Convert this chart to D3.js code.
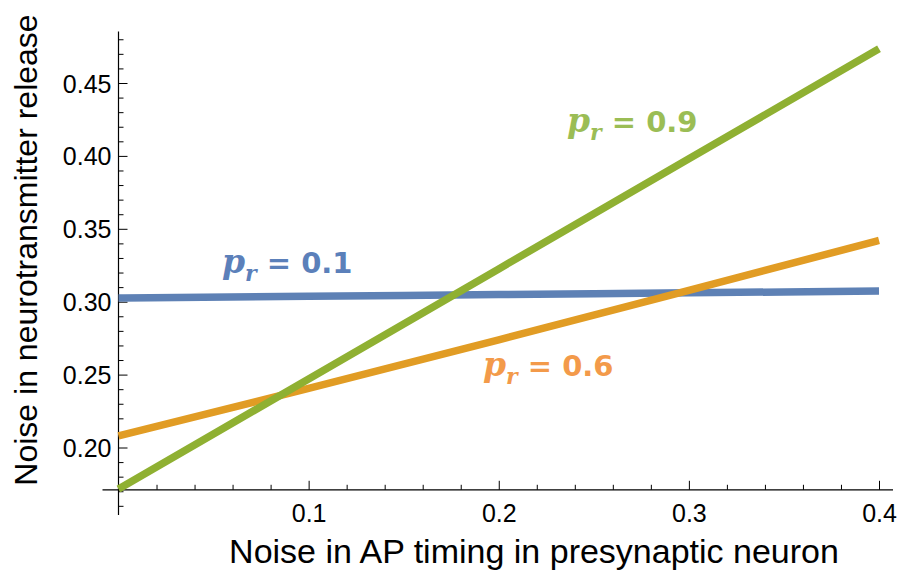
<!DOCTYPE html>
<html>
<head>
<meta charset="utf-8">
<script src="https://cdn.jsdelivr.net/npm/d3@7"></script>
<style>
  body { margin: 0; background: #fff; }
  svg { display: block; }
</style>
</head>
<body>
<div class="canvas"></div>
<script>
// values
const xValues = [0, 0.1, 0.2, 0.3, 0.4];
const pr01 = [0.3025, 0.3037, 0.3049, 0.3061, 0.3073];
const pr06 = [0.208, 0.2405, 0.2738, 0.3078, 0.342];
const pr09 = [0.1715, 0.247, 0.3225, 0.398, 0.4735];
const xTicks = [0.1, 0.2, 0.3, 0.4];
const yTicks = [0.20, 0.25, 0.30, 0.35, 0.40, 0.45];
const seriesNames = ['0.1', '0.6', '0.9'];

const svgWidth = 899;
const svgHeight = 575;

const xScale = d3.scaleLinear().domain([0, 0.4]).range([118.5, 879]);
const yScale = d3.scaleLinear().domain([0.20, 0.45]).range([447.5, 83]);

const svg = d3.select('.canvas').append('svg')
  .attr('width', svgWidth)
  .attr('height', svgHeight);

const font = '"Liberation Sans", Arial, Helvetica, sans-serif';

// axes
const xAxisY = yScale(0.171);
const yAxisX = xScale(0);

const xAxis = d3.axisTop(xScale)
  .tickValues(d3.range(1, 21).map((i) => i * 0.02))
  .tickSize(0)
  .tickFormat('');
const xAxisGroup = svg.append('g')
  .attr('transform', `translate(0, ${xAxisY})`)
  .call(xAxis);
xAxisGroup.select('.domain').remove();
xAxisGroup.selectAll('.tick line')
  .attr('y2', (d) => (Math.abs(d * 10 - Math.round(d * 10)) < 1e-6 ? -9 : -5))
  .attr('stroke', '#000')
  .attr('stroke-width', 1);

svg.append('line')
  .attr('x1', 102.5).attr('x2', 893)
  .attr('y1', xAxisY).attr('y2', xAxisY)
  .attr('stroke', '#000').attr('stroke-width', 1.2);

xAxisGroup.selectAll('.tick').filter((d) => xTicks.some((t) => Math.abs(t - d) < 1e-6))
  .append('text')
  .attr('y', 32)
  .attr('fill', '#000')
  .attr('text-anchor', 'middle')
  .style('font-family', font)
  .style('font-size', '25px')
  .text((d) => d3.format('.1f')(d));

const yMinor = d3.range(16, 49).map((i) => i / 100);
const yAxis = d3.axisRight(yScale).tickValues(yMinor).tickSize(0).tickFormat('');
const yAxisGroup = svg.append('g')
  .attr('transform', `translate(${yAxisX}, 0)`)
  .call(yAxis);
yAxisGroup.select('.domain').remove();
yAxisGroup.selectAll('.tick line')
  .attr('x2', (d) => (yTicks.some((t) => Math.abs(t - d) < 1e-6) ? 9 : 5))
  .attr('stroke', '#000')
  .attr('stroke-width', 1);

svg.append('line')
  .attr('x1', yAxisX).attr('x2', yAxisX)
  .attr('y1', 31.5).attr('y2', 515)
  .attr('stroke', '#000').attr('stroke-width', 1.2);

yAxisGroup.selectAll('.tick').filter((d) => yTicks.some((t) => Math.abs(t - d) < 1e-6))
  .append('text')
  .attr('x', -7)
  .attr('dy', '0.36em')
  .attr('fill', '#000')
  .attr('text-anchor', 'end')
  .style('font-family', font)
  .style('font-size', '25px')
  .text((d) => d3.format('.2f')(d));

// axis titles
svg.append('text')
  .attr('x', 534)
  .attr('y', 563)
  .attr('text-anchor', 'middle')
  .style('font-family', font)
  .style('font-size', '34px')
  .text('Noise in AP timing in presynaptic neuron');

svg.append('text')
  .attr('transform', 'translate(37, 250) rotate(-90)')
  .attr('text-anchor', 'middle')
  .style('font-family', font)
  .style('font-size', '32px')
  .text('Noise in neurotransmitter release');

// curves
const line = d3.line()
  .x((d) => xScale(d[0]))
  .y((d) => yScale(d[1]))
  .curve(d3.curveMonotoneX);

const series = [
  { name: seriesNames[0], values: pr01, color: '#5e81b5', label: '#5b80ba', lx: 222, ly: 273 },
  { name: seriesNames[1], values: pr06, color: '#e19c24', label: '#f39a4a', lx: 483, ly: 376 },
  { name: seriesNames[2], values: pr09, color: '#8fb032', label: '#9bbd55', lx: 567, ly: 132 }
];

svg.selectAll('path.curve')
  .data(series)
  .enter()
  .append('path')
  .attr('class', 'curve')
  .attr('d', (s) => line(xValues.map((x, i) => [x, s.values[i]])))
  .attr('fill', 'none')
  .attr('stroke', (s) => s.color)
  .attr('stroke-width', 7.5);

// labels
const labels = svg.selectAll('text.label')
  .data(series)
  .enter()
  .append('text')
  .attr('class', 'label')
  .attr('x', (s) => s.lx)
  .attr('y', (s) => s.ly)
  .attr('fill', (s) => s.label)
  .style('font-weight', 'bold');

labels.append('tspan')
  .style('font-family', '"DejaVu Serif", serif')
  .style('font-style', 'italic')
  .style('font-size', '33px')
  .text('p');
labels.append('tspan')
  .attr('dy', 8)
  .style('font-family', '"DejaVu Serif", serif')
  .style('font-style', 'italic')
  .style('font-size', '22px')
  .text('r');
labels.append('tspan')
  .attr('dy', -8)
  .style('font-family', '"DejaVu Sans", Verdana, sans-serif')
  .style('font-size', '29px')
  .text((s) => ' = ' + s.name);
</script>
</body>
</html>
